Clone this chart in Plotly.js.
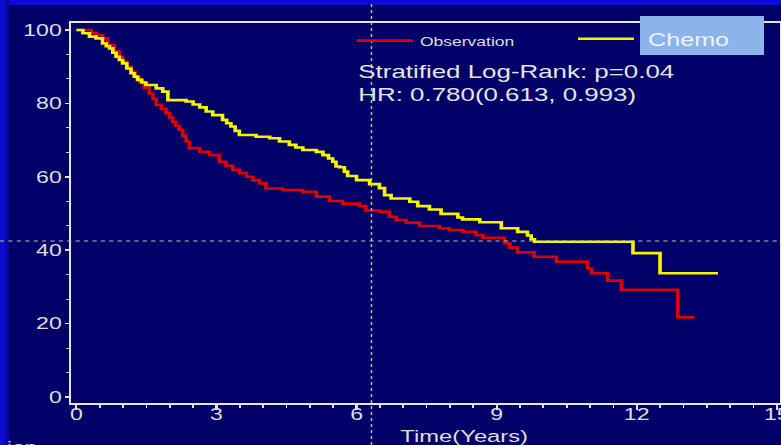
<!DOCTYPE html>
<html>
<head>
<meta charset="utf-8">
<script src="https://cdn.plot.ly/plotly-3.0.1.min.js"></script>
<style>
  html, body { margin:0; padding:0; width:781px; height:445px; overflow:hidden; background:#000068; }
  #chart { width:558px; height:445px; transform:scaleX(1.39964); transform-origin:0 0; }
</style>
</head>
<body>
<div id="chart"></div>
<script>
// ---- data ----
const obsTime = [0, 0.32, 0.42, 0.56, 0.67, 0.81, 0.92, 0.99, 1.08, 1.17, 1.26, 1.35, 1.45, 1.56, 1.64, 1.71, 1.82, 1.92, 2.0, 2.06, 2.13, 2.2, 2.28, 2.35, 2.42, 2.64, 2.85, 3.06, 3.2, 3.35, 3.5, 3.64, 3.78, 3.92, 4.06, 4.42, 4.85, 5.14, 5.42, 5.7, 6.06, 6.2, 6.49, 6.7, 6.85, 7.06, 7.35, 7.78, 7.99, 8.28, 8.56, 8.7, 9.17, 9.28, 9.45, 9.8, 10.28, 10.95, 11.03, 11.38, 11.67, 12.88, 13.24];
const obsSurv = [100, 99.2, 98.6, 97.7, 95.9, 94.1, 92.7, 91.4, 90, 88.6, 87.2, 85.9, 84.3, 82.7, 81.2, 79.6, 78.5, 77.3, 76.2, 75, 73.9, 72.8, 71.2, 69.6, 67.8, 66.8, 65.9, 64.1, 63, 61.9, 61, 60, 59.1, 58.2, 56.8, 56.4, 55.9, 54.6, 53.4, 52.7, 52, 50.8, 50.5, 49.1, 48.2, 47.5, 46.6, 46, 45.5, 45, 44.1, 43.4, 41.9, 40.7, 39.4, 38.2, 36.9, 35, 33.7, 31.7, 29.2, 21.7, 21.7];

const chemoTime = [0, 0.14, 0.28, 0.42, 0.56, 0.64, 0.71, 0.78, 0.85, 0.92, 0.99, 1.08, 1.17, 1.24, 1.31, 1.4, 1.49, 1.71, 1.85, 1.96, 2.35, 2.5, 2.64, 2.78, 2.92, 3.13, 3.22, 3.31, 3.4, 3.49, 3.85, 4.14, 4.35, 4.56, 4.7, 4.85, 5.14, 5.28, 5.4, 5.49, 5.56, 5.64, 5.74, 5.81, 6.0, 6.28, 6.49, 6.6, 6.74, 7.14, 7.31, 7.56, 7.81, 8.17, 8.27, 8.64, 9.1, 9.45, 9.66, 9.74, 9.81, 11.92, 12.5, 13.74];
const chemoSurv = [100, 99.1, 98.2, 97.7, 96.3, 95.6, 95, 93.8, 92.7, 91.8, 90.9, 89.5, 88.2, 87.3, 86.4, 85.7, 85, 84.1, 83.2, 80.9, 80.5, 79.7, 78.9, 77.8, 76.8, 75.5, 74.6, 73.7, 72.5, 71.4, 70.9, 70.5, 69.6, 68.7, 68, 67.3, 66.8, 65.9, 65, 64.1, 62.8, 62.6, 61.4, 60.2, 59.1, 58, 56.9, 55, 54.1, 53.2, 52, 51.1, 49.9, 48.9, 48.4, 47.6, 46, 45, 44, 43, 42.3, 39.2, 33.7, 33.7];

const seriesNames = ['Observation', '\u00a0Chemo'];
const xTickVals = [0, 3, 6, 9, 12, 15];
const yTickVals = [0, 20, 40, 60, 80, 100];
const statLines = ['Stratified Log-Rank: p=0.04', 'HR: 0.780(0.613, 0.993)'];
const xTitle = 'Time(Years)';
const cutText = 'ion';
const crossX = 6.32;   // vertical dotted marker (years)
const crossY = 42.5;   // horizontal dotted marker (%)

// ---- layout geometry ----
const K = 781 / 558;            // horizontal stretch applied by CSS
const W = 558, H = 445;
const ML = 51, MR = 1, MT = 23, MB = 42;
const PW = W - ML - MR, PH = H - MT - MB;
const X_RANGE = [-0.107, 15.06];
const Y_RANGE = [-1.63, 101.9];

const px = x => (x / K - ML) / PW;          // screen px -> paper x
const py = y => (H - MB - y) / PH;          // screen px -> paper y
const fx = v => (v - X_RANGE[0]) / (X_RANGE[1] - X_RANGE[0]);
const fy = v => (v - Y_RANGE[0]) / (Y_RANGE[1] - Y_RANGE[0]);

const FONT = 'Liberation Sans, Arial, Helvetica, sans-serif';
const TXT = '#dedede';

const traces = [
  { x: obsTime, y: obsSurv, name: seriesNames[0], type: 'scatter', mode: 'lines',
    line: { shape: 'hv', color: '#dc0000', width: 2.6 }, legend: 'legend' },
  { x: chemoTime, y: chemoSurv, name: seriesNames[1], type: 'scatter', mode: 'lines',
    line: { shape: 'hv', color: '#f4f400', width: 2.6 }, legend: 'legend2' }
];

const layout = {
  width: W, height: H,
  margin: { l: ML, r: MR, t: MT, b: MB, pad: 0 },
  paper_bgcolor: '#000068',
  plot_bgcolor: 'rgba(0,0,0,0)',
  font: { family: FONT, color: TXT },
  showlegend: true,
  legend: { x: px(350), y: py(41), xanchor: 'left', yanchor: 'middle', orientation: 'h',
    bgcolor: 'rgba(0,0,0,0)', borderwidth: 0, itemwidth: 40,
    font: { family: FONT, size: 12.5, color: TXT } },
  legend2: { x: px(571), y: py(39), xanchor: 'left', yanchor: 'middle', orientation: 'h',
    bgcolor: 'rgba(0,0,0,0)', borderwidth: 0, itemwidth: 40,
    font: { family: FONT, size: 18, color: '#eef2ff' } },
  xaxis: {
    range: X_RANGE, tickvals: xTickVals, ticktext: xTickVals.map(String),
    ticks: 'outside', ticklen: 5, tickwidth: 1.5, tickcolor: '#e0e0e0',
    minor: { dtick: 0.5, tick0: 0, ticks: 'outside', ticklen: 3, tickwidth: 1.2, tickcolor: '#e0e0e0' },
    showline: true, linewidth: 2, linecolor: '#e6e6e6', mirror: true,
    showgrid: false, zeroline: false,
    ticklabelstandoff: -10, ticklabeloverflow: 'allow',
    tickfont: { family: FONT, size: 16.5, color: TXT }
  },
  yaxis: {
    range: Y_RANGE, tickvals: yTickVals, ticktext: yTickVals.map(String),
    ticks: 'outside', ticklen: 3, tickwidth: 1.5, tickcolor: '#e0e0e0',
    minor: { dtick: 20 / 3, tick0: 0, ticks: 'outside', ticklen: 2, tickwidth: 1, tickcolor: '#c8c8c8' },
    showline: true, linewidth: 1.6, linecolor: '#e6e6e6', mirror: true,
    showgrid: false, zeroline: false,
    ticklabelstandoff: -1,
    tickfont: { family: FONT, size: 16.5, color: TXT }
  },
  shapes: [
    // bright blue slide frame
    { type: 'rect', xref: 'paper', yref: 'paper', x0: px(0), x1: px(781), y0: py(5), y1: py(0),
      fillcolor: '#0c0cd0', line: { width: 0 }, layer: 'below' },
    { type: 'rect', xref: 'paper', yref: 'paper', x0: px(0), x1: px(5), y0: py(445), y1: py(0),
      fillcolor: '#0c0cd0', line: { width: 0 }, layer: 'below' },
    { type: 'rect', xref: 'paper', yref: 'paper', x0: px(5), x1: px(9), y0: py(445), y1: py(0),
      fillcolor: '#0606a0', line: { width: 0 }, layer: 'below' },
    // dotted marker lines
    { type: 'line', xref: 'paper', yref: 'paper', x0: fx(crossX), x1: fx(crossX), y0: py(445), y1: py(4),
      line: { color: '#d8c85a', width: 1, dash: 'dot' }, layer: 'above' },
    { type: 'line', xref: 'paper', yref: 'paper', x0: px(0), x1: px(781), y0: fy(crossY), y1: fy(crossY),
      line: { color: '#c0c0b0', width: 1, dash: 'dot' }, layer: 'above' },
    // light-blue label box
    { type: 'rect', xref: 'paper', yref: 'paper', x0: px(640), x1: px(764), y0: py(55), y1: py(16),
      fillcolor: '#8db4ea', line: { width: 0 }, layer: 'above' }
  ],
  annotations: [
    { xref: 'paper', yref: 'paper', x: px(355), y: py(72), xanchor: 'left', yanchor: 'middle',
      text: statLines[0], showarrow: false, font: { family: FONT, size: 18.5, color: '#e4e4e4' } },
    { xref: 'paper', yref: 'paper', x: px(355), y: py(94), xanchor: 'left', yanchor: 'middle',
      text: statLines[1], showarrow: false, font: { family: FONT, size: 18.5, color: '#e4e4e4' } },
    { xref: 'x', yref: 'paper', x: 8.3, y: py(436), xanchor: 'center', yanchor: 'middle',
      text: xTitle, showarrow: false, font: { family: FONT, size: 17, color: TXT } },
    { xref: 'paper', yref: 'paper', x: px(4), y: py(437), xanchor: 'left', yanchor: 'top',
      text: cutText, showarrow: false, font: { family: FONT, size: 16, color: '#cfcfcf' } }
  ]
};

Plotly.newPlot('chart', traces, layout, { displayModeBar: false, staticPlot: true });
</script>
</body>
</html>
